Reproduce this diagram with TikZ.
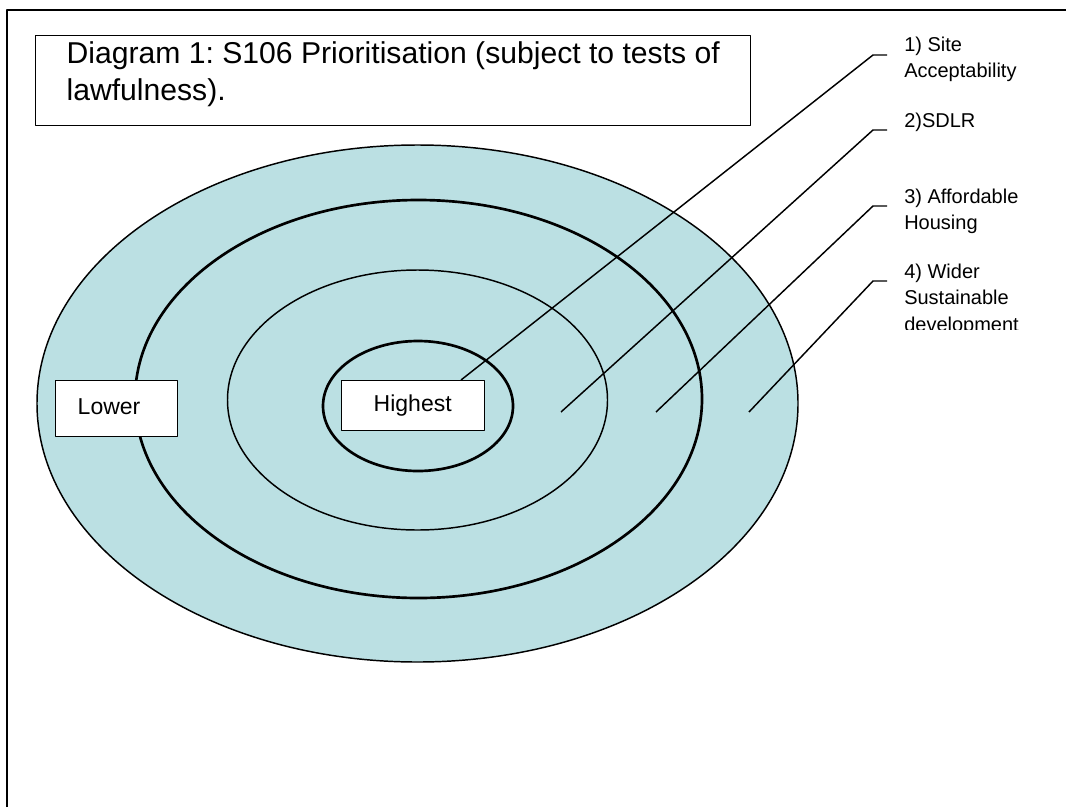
\documentclass[tikz,border=0pt]{standalone}
\usepackage{fontspec}
\setmainfont{Liberation Sans}
\frenchspacing
\newlength\px
\setlength\px{0.75pt}
\definecolor{ringblue}{RGB}{187,224,227}

\begin{document}
\begin{tikzpicture}[x=0.75pt,y=-0.75pt,line join=round,
    ring/.style={line width=1.1pt},
    thickring/.style={line width=2pt},
    tag/.style={draw,fill=white,line width=1.1pt,anchor=north west,inner ysep=0pt,align=left,font=\fontsize{17.25}{20}\selectfont},
    callout/.style={line width=1.1pt},
    lbl/.style={anchor=north west,inner xsep=17\px,inner ysep=0pt,align=left,font=\fontsize{15}{19.9}\selectfont}]
    \useasboundingbox (0,0) rectangle (1066,807);

    % draw the page frame
    \draw[line width=1.5pt] (7,807) -- (7,10) -- (1066,10);

    % draw the rings
    \filldraw[ring,fill=ringblue] (417.5,403.5) ellipse [x radius=380.5,y radius=258.5];
    \draw[thickring] (418.5,399) ellipse [x radius=283.5,y radius=199];
    \draw[ring] (417.5,400) ellipse [x radius=190,y radius=130];
    \draw[thickring] (418,406) ellipse [x radius=95,y radius=65];

    % title box
    \node[draw,fill=white,line width=1.1pt,anchor=north west,inner xsep=0pt,inner ysep=0pt,
        minimum width=715\px,minimum height=90\px,align=left,font=\fontsize{22.6}{27.75}\selectfont]
        (title) at (35,35) {Diagram 1: S106 Prioritisation (subject to tests of\\lawfulness).\rule[-14pt]{0pt}{0pt}};

    % the two boxes
    \node[tag,text width=78\px,inner xsep=22\px,minimum height=56\px] (lower) at (55,380) {Lower\vphantom{g}};
    \node[tag,text width=79\px,inner xsep=32\px,minimum height=50\px] (highest) at (341,380) {Highest};

    % labels at the right
    \node[lbl] (lab1) at (887,36.5) {1) Site\\Acceptability};
    \node[lbl] (lab2) at (887,112.5) {2)SDLR};
    \node[lbl] (lab3) at (887,188.5) {3) Affordable\\Housing};
    \begin{scope}
        \clip (880,0) rectangle (1066,329);
        \node[lbl] (lab4) at (887,263.5) {4) Wider\\Sustainable\\development};
    \end{scope}

    % callout points
    \coordinate (s1) at (461,379);
    \coordinate (s2) at (561,412);
    \coordinate (s3) at (656,412);
    \coordinate (s4) at (749,412);
    \coordinate (k1) at (873,55);
    \coordinate (k2) at (873,130);
    \coordinate (k3) at (873,206);
    \coordinate (k4) at (873,281);

    % callout lines
    \draw[callout] (highest.north -| s1) -- (k1) -- (k1 -| lab1.west);
    \draw[callout] (s2) -- (k2) -- (k2 -| lab2.west);
    \draw[callout] (s3) -- (k3) -- (k3 -| lab3.west);
    \draw[callout] (s4) -- (k4) -- (k4 -| lab4.west);
\end{tikzpicture}
\end{document}
